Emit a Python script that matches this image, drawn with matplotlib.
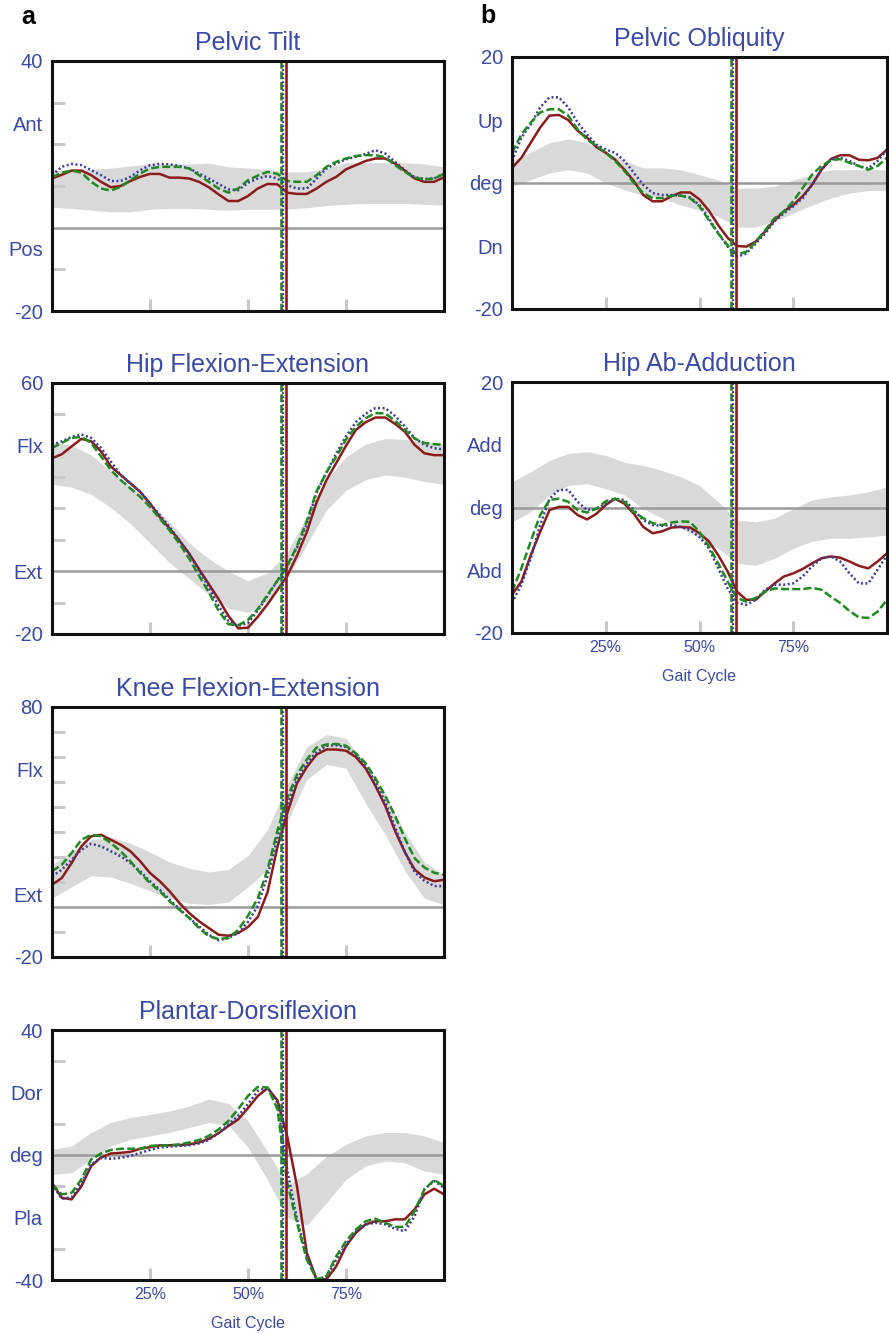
import matplotlib
matplotlib.use("Agg")
import matplotlib.pyplot as plt

plt.rcParams['font.family'] = ['Liberation Sans', 'DejaVu Sans']

W, H, DPI = 889, 1334, 100
TXT = '#3a4aa6'
RED = '#8b1c1c'
BLUE = '#3b3b9e'
GREEN = '#1f8a1f'
BAND = '#d9d9d9'
TICKC = '#c8c8c8'

# ---------------- data ----------------
gait_pct = [0, 2.5, 5, 7.5, 10, 12.5, 15, 17.5, 20, 22.5, 25, 27.5, 30, 32.5, 35, 37.5, 40,
            42.5, 45, 47.5, 50, 52.5, 55, 57.5, 60, 62.5, 65, 67.5, 70, 72.5, 75, 77.5, 80,
            82.5, 85, 87.5, 90, 92.5, 95, 97.5, 100]
band_pct = [0, 5, 10, 15, 20, 25, 30, 35, 40, 45, 50, 55, 60, 65, 70, 75, 80, 85, 90, 95, 100]
gait_ticks = [25, 50, 75]
gait_tick_labels = ['25%', '50%', '75%']
toe_off_green = 58.5
toe_off_blue = 59.0
toe_off_red = 59.6

# Pelvic Tilt
pt_red = [11.8, 12.7, 13.7, 13.7, 12.6, 11.0, 9.7, 10.0, 11.2, 12.2, 12.9, 12.9, 12.0, 12.0, 11.8, 11.0,
          9.7, 8.0, 6.4, 6.4, 7.6, 9.4, 10.5, 10.4, 8.4, 8.1, 8.1, 9.4, 11.0, 12.2, 14.0, 15.0, 16.0,
          16.6, 16.6, 15.4, 13.7, 11.8, 11.0, 11.0, 12.1]
pt_blue = [12.6, 14.6, 15.3, 15.0, 13.8, 12.6, 11.2, 11.2, 12.2, 13.8, 15.0, 15.3, 15.2, 14.8, 14.2, 13.0,
           11.8, 10.5, 9.2, 9.0, 10.8, 11.8, 12.4, 11.8, 10.2, 9.4, 9.4, 11.8, 14.2, 15.4, 16.4, 17.0,
           17.7, 18.6, 17.8, 15.8, 13.8, 12.1, 11.7, 11.8, 13.0]
pt_green = [12.1, 13.2, 13.7, 13.2, 11.0, 9.4, 8.9, 9.8, 11.4, 13.0, 14.2, 14.6, 14.6, 14.6, 14.2, 12.6,
            11.0, 9.4, 8.4, 9.4, 11.4, 12.5, 13.4, 12.9, 11.2, 11.0, 11.0, 12.6, 14.6, 15.8, 16.6, 17.2,
            17.4, 17.4, 16.9, 15.0, 13.4, 12.0, 11.6, 11.8, 12.9]
pt_band_hi = [13.6, 14.0, 14.0, 14.3, 14.8, 15.3, 15.3, 15.3, 15.5, 14.6, 14.3, 14.0, 13.4, 13.4, 14.2,
              15.6, 15.6, 15.6, 15.6, 15.3, 14.6]
pt_band_lo = [4.9, 4.6, 4.2, 3.8, 3.8, 4.4, 4.6, 4.6, 4.4, 4.2, 4.4, 4.4, 4.5, 4.8, 5.3, 5.6, 5.8, 5.8,
              5.8, 5.6, 5.4]

# Pelvic Obliquity
po_red = [2.4, 4.0, 6.4, 8.8, 10.7, 10.8, 10.0, 8.3, 7.2, 5.7, 4.8, 3.7, 2.1, 0.3, -1.9, -2.9, -2.9,
          -2.1, -1.5, -1.5, -2.6, -4.4, -6.7, -8.7, -10.0, -10.1, -9.3, -7.7, -5.9, -4.5, -3.5, -2.1,
          -0.3, 2.1, 3.8, 4.4, 4.4, 3.7, 3.6, 4.0, 5.3]
po_blue = [3.5, 7.2, 9.3, 12.0, 13.6, 13.6, 12.0, 9.6, 7.7, 6.1, 5.3, 4.8, 3.5, 1.6, -0.3, -1.6, -1.9,
           -1.9, -2.0, -2.3, -3.5, -5.6, -8.0, -10.1, -11.7, -11.2, -9.6, -8.0, -6.1, -4.8, -3.7, -2.4,
           -0.3, 2.1, 3.7, 4.0, 3.5, 2.7, 2.3, 3.5, 5.3]
po_green = [4.8, 7.7, 9.6, 11.2, 11.7, 11.7, 10.7, 8.5, 6.9, 5.9, 4.8, 3.5, 1.9, 0.0, -1.6, -2.4, -2.4,
            -2.0, -2.0, -2.4, -3.7, -5.9, -8.0, -9.9, -11.4, -10.9, -9.3, -7.5, -5.6, -4.5, -2.9, -0.8,
            1.3, 2.7, 3.6, 3.8, 3.2, 2.7, 2.1, 2.7, 4.0]
po_band_hi = [3.5, 4.9, 6.4, 7.0, 6.4, 5.0, 3.5, 2.4, 2.4, 2.1, 1.3, 0.5, -0.8, -0.8, -0.5, 0.5, 1.3,
              2.1, 2.1, 2.1, 2.1]
po_band_lo = [-0.5, 0.5, 1.6, 2.1, 1.6, 0.0, -1.1, -1.9, -2.4, -3.5, -4.3, -5.3, -7.0, -7.0, -6.1,
              -4.8, -3.5, -2.4, -1.6, -1.2, -1.2]

# Hip Flexion-Extension
hf_red = [36.0, 37.3, 39.8, 42.2, 41.4, 38.2, 33.4, 30.7, 28.0, 25.3, 21.6, 17.3, 13.6, 9.8, 5.6, 0.7,
          -4.1, -8.9, -14.2, -18.2, -18.0, -14.5, -10.5, -6.0, -1.5, 5.0, 12.5, 22.0, 29.0, 34.5, 40.0,
          45.0, 47.5, 49.0, 49.0, 47.0, 44.5, 40.3, 37.6, 37.0, 37.0]
hf_blue = [40.3, 41.4, 42.8, 43.6, 42.5, 39.3, 35.0, 30.7, 28.0, 25.3, 21.6, 17.9, 14.1, 9.8, 5.6, 0.2,
           -5.1, -11.0, -15.8, -17.4, -16.5, -12.5, -7.8, -3.0, 1.5, 7.5, 15.0, 25.0, 31.5, 37.5, 43.0,
           47.5, 50.2, 52.0, 52.0, 49.5, 46.2, 42.4, 40.3, 39.2, 38.8]
hf_green = [39.3, 40.9, 42.5, 42.8, 40.9, 36.6, 32.3, 29.1, 26.4, 23.7, 20.5, 16.8, 13.0, 8.8, 4.0, -1.4,
            -6.7, -12.6, -16.9, -17.2, -15.5, -12.0, -7.5, -3.0, 1.8, 8.0, 16.0, 25.5, 31.5, 36.5, 42.0,
            46.0, 48.8, 50.4, 50.3, 48.0, 45.1, 42.3, 40.9, 40.5, 40.3]
hf_band_hi = [41.2, 40.1, 37.0, 32.0, 27.0, 21.8, 15.6, 9.0, 4.0, 0.0, -3.0, -0.5, 6.0, 17.5, 29.0,
              36.5, 40.5, 42.3, 42.0, 41.2, 40.6]
hf_band_lo = [27.7, 26.8, 24.5, 20.3, 15.2, 9.0, 2.7, -2.3, -7.4, -11.8, -13.1, -9.5, -2.3, 8.6, 19.5,
              25.8, 29.2, 30.7, 30.0, 28.6, 27.7]

# Knee Flexion-Extension
kn_red = [8.9, 11.6, 17.6, 24.3, 28.3, 28.9, 26.9, 24.9, 22.3, 18.3, 13.6, 10.3, 6.3, 1.6, -2.4, -5.7,
          -8.4, -11.1, -11.5, -10.4, -8.0, -4.0, 6.0, 24.0, 37.5, 49.5, 56.0, 61.0, 63.0, 63.0, 62.5,
          60.0, 55.5, 48.5, 40.5, 30.5, 22.0, 15.0, 11.8, 10.3, 10.9]
kn_blue = [12.3, 14.9, 18.9, 22.9, 25.3, 24.3, 22.3, 20.3, 17.6, 14.3, 10.3, 6.9, 2.9, -0.8, -4.4, -7.7,
           -11.1, -13.3, -12.4, -10.4, -6.0, 0.5, 12.5, 27.5, 41.0, 51.0, 57.5, 62.0, 64.5, 64.7, 64.0,
           61.0, 56.5, 50.0, 42.0, 32.0, 22.0, 14.0, 10.5, 8.4, 8.3]
kn_green = [14.3, 16.9, 21.6, 26.9, 28.9, 28.3, 25.6, 22.3, 18.3, 13.6, 9.6, 6.3, 2.3, -1.1, -4.4, -8.4,
            -11.7, -12.8, -12.4, -9.1, -3.5, 3.5, 15.0, 30.5, 43.5, 53.0, 59.0, 63.8, 65.0, 65.2, 64.5,
            61.5, 57.5, 51.5, 44.5, 36.5, 27.5, 19.5, 15.8, 13.7, 12.9]
kn_band_hi = [17.0, 22.0, 27.0, 28.0, 25.5, 22.0, 18.0, 15.5, 14.0, 15.0, 20.5, 31.0, 49.0, 64.0, 69.0,
              67.5, 56.5, 45.0, 30.0, 18.0, 12.9]
kn_band_lo = [3.6, 8.0, 12.5, 12.0, 9.5, 6.5, 3.5, 1.5, 1.0, 2.0, 8.0, 15.0, 34.0, 51.0, 57.0, 55.5,
              41.5, 29.0, 14.5, 3.5, 0.9]

# Plantar-Dorsiflexion
pd_red = [-8.9, -13.7, -14.2, -10.0, -3.5, -0.8, 0.5, 0.7, 1.0, 2.0, 2.5, 3.1, 3.1, 3.2, 3.4, 4.0, 5.2,
          7.0, 9.3, 11.4, 15.0, 18.9, 21.4, 17.5, 6.0, -10.0, -31.3, -39.8, -39.8, -35.6, -29.2, -24.9,
          -22.2, -21.2, -21.2, -20.6, -20.6, -17.4, -12.6, -10.8, -12.6]
pd_blue = [-9.4, -14.0, -13.5, -8.9, -3.0, -0.9, -1.2, -0.9, -0.3, 0.7, 1.6, 2.4, 2.7, 2.9, 3.1, 3.7, 4.8,
           7.0, 9.8, 12.5, 16.3, 20.5, 21.6, 16.8, -4.6, -20.6, -32.4, -39.8, -39.0, -33.5, -28.7,
           -24.4, -22.2, -21.7, -22.2, -23.6, -24.4, -19.6, -11.0, -8.3, -10.5]
pd_green = [-9.4, -12.6, -12.1, -7.8, -1.4, 0.5, 1.6, 2.0, 2.0, 2.0, 2.9, 3.1, 3.1, 3.4, 4.0, 4.8, 6.1,
            8.2, 10.9, 14.7, 18.9, 21.8, 21.6, 14.7, -8.9, -21.7, -33.5, -39.8, -38.8, -32.4, -27.6,
            -23.9, -21.2, -20.4, -21.7, -23.0, -23.0, -18.0, -11.0, -8.0, -9.9]
pd_band_hi = [1.8, 2.9, 7.2, 10.4, 12.0, 13.0, 14.1, 15.7, 17.9, 16.5, 11.0, 1.0, -9.5, -6.0, -0.5, 3.4,
              6.1, 7.2, 7.2, 6.1, 4.0]
pd_band_lo = [-6.2, -5.7, -1.4, 2.9, 5.0, 6.1, 7.2, 8.8, 10.4, 9.5, 2.5, -8.0, -20.0, -22.5, -15.3,
              -7.8, -3.5, -1.9, -2.5, -5.1, -6.2]

# Hip Ab-Adduction
ha_red = [-13.9, -11.8, -7.6, -3.9, -0.4, 0.1, 0.1, -1.2, -1.9, -1.0, 0.4, 1.4, 0.6, -1.0, -3.1, -4.1,
          -3.8, -3.2, -3.1, -3.2, -4.1, -5.4, -7.6, -10.2, -13.4, -14.7, -14.7, -13.4, -12.1, -11.0,
          -10.5, -9.8, -8.9, -8.1, -7.8, -8.0, -8.6, -9.3, -9.7, -8.6, -7.3]
ha_blue = [-15.2, -12.3, -8.1, -2.8, 1.4, 2.8, 2.8, 0.9, -0.4, -0.2, 0.6, 1.4, 1.2, -0.4, -2.0, -2.8,
           -2.9, -2.8, -3.1, -3.6, -4.7, -6.5, -9.7, -12.9, -15.2, -15.5, -14.7, -13.1, -12.3, -12.3,
           -12.1, -11.0, -9.4, -8.1, -7.8, -8.6, -10.5, -12.1, -12.1, -9.9, -7.6]
ha_green = [-13.4, -9.7, -5.4, -1.2, 1.2, 1.4, 0.9, -0.4, -0.8, -0.2, 1.0, 1.4, 0.9, -0.7, -1.7, -2.5,
            -2.8, -2.4, -2.2, -2.3, -3.9, -6.2, -8.9, -11.8, -14.4, -15.0, -14.4, -13.4, -12.9, -13.0,
            -13.0, -13.0, -12.8, -13.1, -14.2, -15.2, -16.5, -17.5, -17.6, -16.6, -14.7]
ha_band_hi = [4.1, 5.7, 7.5, 8.6, 8.9, 8.3, 7.2, 6.7, 5.9, 4.9, 3.5, 0.9, -2.0, -2.3, -1.7, -0.2, 1.2,
              1.7, 2.0, 2.5, 3.3]
ha_band_lo = [-2.3, -0.7, 2.0, 3.5, 3.8, 3.0, 2.0, -0.2, -1.7, -3.3, -4.9, -6.5, -8.9, -9.2, -8.1, -6.5,
              -5.4, -4.9, -4.9, -4.7, -4.4]

# axis label definitions
pt_ylim = (-20, 40); pt_lab_pos = [40, 25, -5, -20]; pt_lab = ['40', 'Ant', 'Pos', '-20']
po_ylim = (-20, 20); po_lab_pos = [20, 10, 0, -10, -20]; po_lab = ['20', 'Up', 'deg', 'Dn', '-20']
hf_ylim = (-20, 60); hf_lab_pos = [60, 40, 0, -20]; hf_lab = ['60', 'Flx', 'Ext', '-20']
ha_ylim = (-20, 20); ha_lab_pos = [20, 10, 0, -10, -20]; ha_lab = ['20', 'Add', 'deg', 'Abd', '-20']
kn_ylim = (-20, 80); kn_lab_pos = [80, 55, 5, -20]; kn_lab = ['80', 'Flx', 'Ext', '-20']
pd_ylim = (-40, 40); pd_lab_pos = [40, 20, 0, -20, -40]; pd_lab = ['40', 'Dor', 'deg', 'Pla', '-40']

panels = [
    dict(title='Pelvic Tilt', box=(52, 61, 444, 311), ylim=pt_ylim, lp=pt_lab_pos, lab=pt_lab,
         red=pt_red, blue=pt_blue, green=pt_green, hi=pt_band_hi, lo=pt_band_lo, xl=False),
    dict(title='Pelvic Obliquity', box=(512, 57, 887, 309), ylim=po_ylim, lp=po_lab_pos, lab=po_lab,
         red=po_red, blue=po_blue, green=po_green, hi=po_band_hi, lo=po_band_lo, xl=False),
    dict(title='Hip Flexion-Extension', box=(52, 383, 444, 634), ylim=hf_ylim, lp=hf_lab_pos, lab=hf_lab,
         red=hf_red, blue=hf_blue, green=hf_green, hi=hf_band_hi, lo=hf_band_lo, xl=False),
    dict(title='Hip Ab-Adduction', box=(512, 382, 887, 633), ylim=ha_ylim, lp=ha_lab_pos, lab=ha_lab,
         red=ha_red, blue=ha_blue, green=ha_green, hi=ha_band_hi, lo=ha_band_lo, xl=True),
    dict(title='Knee Flexion-Extension', box=(52, 707, 444, 957), ylim=kn_ylim, lp=kn_lab_pos, lab=kn_lab,
         red=kn_red, blue=kn_blue, green=kn_green, hi=kn_band_hi, lo=kn_band_lo, xl=False),
    dict(title='Plantar-Dorsiflexion', box=(52, 1030, 444, 1280), ylim=pd_ylim, lp=pd_lab_pos, lab=pd_lab,
         red=pd_red, blue=pd_blue, green=pd_green, hi=pd_band_hi, lo=pd_band_lo, xl=True),
]

fig = plt.figure(figsize=(W / DPI, H / DPI), dpi=DPI)
fig.patch.set_facecolor('white')

for p in panels:
    x0, y0, x1, y1 = p['box']
    ax = fig.add_axes([x0 / W, 1 - y1 / H, (x1 - x0) / W, (y1 - y0) / H])
    ymin, ymax = p['ylim']
    ax.set_xlim(0, 100)
    ax.set_ylim(ymin, ymax)

    ax.fill_between(band_pct, p['lo'], p['hi'], color=BAND, lw=0, zorder=1)
    ax.axhline(0, color='#9a9a9a', lw=1.8, zorder=1.5)

    ax.plot(gait_pct, p['red'], color=RED, lw=1.8, zorder=3)
    ax.plot(gait_pct, p['blue'], color=BLUE, lw=1.8, ls=(0, (0.8, 1.0)), zorder=3.1)
    ax.plot(gait_pct, p['green'], color=GREEN, lw=1.8, ls=(0, (3.2, 1.3)), zorder=3.2)

    ax.axvline(toe_off_green, color=GREEN, lw=1.9, ls=(0, (3.0, 1.0)), zorder=4)
    ax.axvline(toe_off_blue, color=BLUE, lw=1.6, ls=(0, (0.8, 1.0)), zorder=4)
    ax.axvline(toe_off_red, color=RED, lw=1.9, zorder=4)

    # x ticks
    ax.set_xticks(gait_ticks)
    ax.set_xticklabels(gait_tick_labels)
    ax.tick_params(axis='x', which='major', direction='in', length=8.6, width=2.2, color=TICKC,
                   labelsize=11.5, labelcolor=TXT, pad=5, labelbottom=p['xl'])
    # y labels (no marks) and grey interior marks
    ax.set_yticks(p['lp'])
    ax.set_yticklabels(p['lab'])
    ax.tick_params(axis='y', which='major', length=0, pad=6.5, labelsize=14.5, labelcolor=TXT)
    minor = [v for v in range(ymin + 10, ymax, 10) if v != 0]
    ax.set_yticks(minor, minor=True)
    ax.tick_params(axis='y', which='minor', direction='in', length=9.4, width=2.2, color=TICKC)
    ax.tick_params(axis='x', which='minor', bottom=False)

    for s in ax.spines.values():
        s.set_linewidth(2.2)
        s.set_color('#111111')
        s.set_zorder(5)

    ax.annotate(p['title'], xy=(0.5, 1), xycoords='axes fraction', xytext=(0, 8),
                textcoords='offset points', ha='center', va='baseline', fontsize=18, color=TXT)
    if p['xl']:
        ax.set_xlabel('Gait Cycle', fontsize=11.5, color=TXT, labelpad=10)

fig.text(21 / W, 1 - 24 / H, 'a', fontsize=18, fontweight='bold', ha='left', va='baseline', color='black')
fig.text(480 / W, 1 - 23 / H, 'b', fontsize=18, fontweight='bold', ha='left', va='baseline', color='black')

fig.savefig('out.png', dpi=DPI, facecolor='white')
